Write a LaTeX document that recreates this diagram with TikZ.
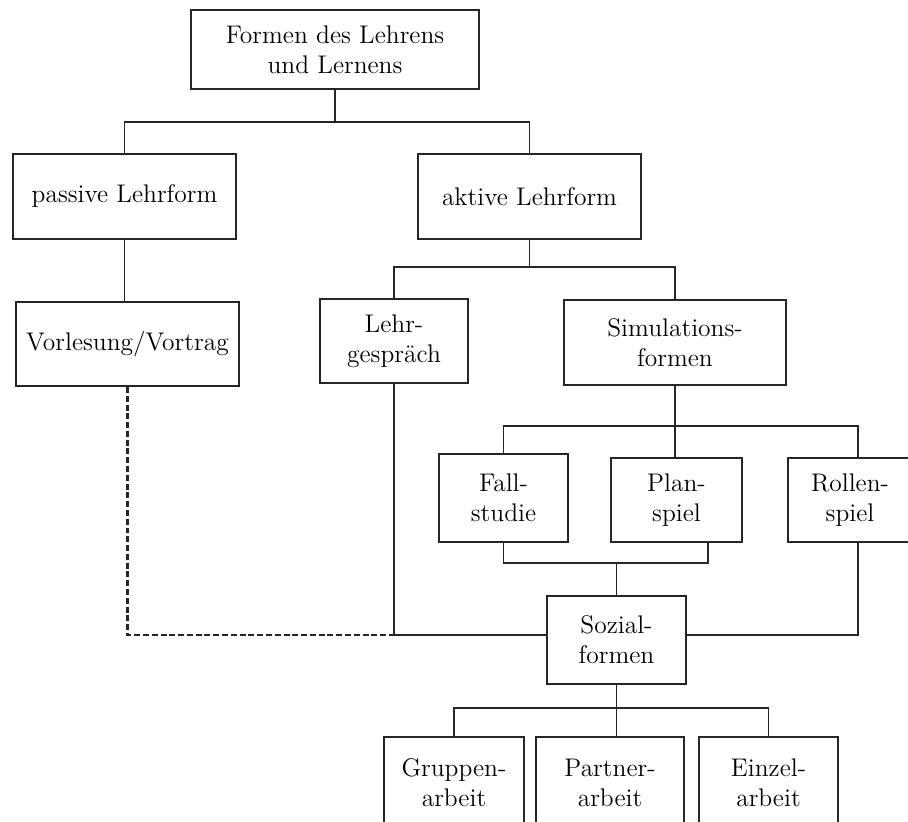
\documentclass[tikz,border=0pt]{standalone}
\usepackage{tikz}
\usetikzlibrary{calc,positioning}
\tikzset{
  formbox/.style  = {draw=black!85, line width=1.1pt, align=center, inner sep=0pt,
                     font=\fontsize{14.5}{17}\selectfont},
  link/.style     = {draw=black!85, line width=1.1pt},
  linkdash/.style = {link, line width=1.3pt, dash pattern=on 3.4pt off 1.6pt},
}
\begin{document}
\begin{tikzpicture}[x=0.02cm, y=-0.02cm]
  \clip (0,0) rectangle (908,821);
  \node[formbox, minimum width=5.76cm, minimum height=1.58cm] (top)     at (335,49.5)    {Formen des Lehrens\\und Lernens};
  \node[formbox, minimum width=4.46cm, minimum height=1.7cm]  (passive) at (124.5,196.5) {passive Lehrform};
  \node[formbox, minimum width=4.46cm, minimum height=1.7cm]  (aktive)  at (529.5,196.5) {aktive Lehrform};
  \node[formbox, minimum width=4.46cm, minimum height=1.68cm] (vorl)    at (127.5,344)   {Vorlesung/Vortrag};
  \node[formbox, minimum width=2.96cm, minimum height=1.68cm] (lehr)    at (394,341)     {Lehr-\\gespräch};
  \node[formbox, minimum width=4.44cm, minimum height=1.7cm]  (sim)     at (675,342.5)   {Simulations-\\formen};
  \node[formbox, minimum width=2.58cm, minimum height=1.76cm] (fall)    at (503.5,498)   {Fall-\\studie};
  \node[formbox, minimum width=2.62cm, minimum height=1.68cm] (plan)    at (676.5,500)   {Plan-\\spiel};
  \node[formbox, minimum width=2.48cm, minimum height=1.68cm] (rollen)  at (850,500)     {Rollen-\\spiel};
  \node[formbox, minimum width=2.78cm, minimum height=1.76cm] (sozial)  at (616.5,640)   {Sozial-\\formen};
  \node[formbox, minimum width=2.8cm,  minimum height=1.84cm] (gruppen) at (454,783)     {Gruppen-\\arbeit};
  \node[formbox, minimum width=2.96cm, minimum height=1.84cm] (partner) at (610,783)     {Partner-\\arbeit};
  \node[formbox, minimum width=2.78cm, minimum height=1.84cm] (einzel)  at (768.5,783)   {Einzel-\\arbeit};

  \coordinate (j1) at (335,122);
  \coordinate (j2) at (529.5,267);
  \coordinate (j3) at (675,426);
  \coordinate (j4) at (616.5,563);
  \coordinate (j5) at (lehr.south |- 0,635);
  \coordinate (j6) at (616.5,708);

  \draw[link] (top) -- (j1);
  \draw[link] (passive) |- (j1) -| (aktive);
  \draw[link] (passive.south) -- (passive.south |- vorl.north);
  \draw[link] (aktive) -- (j2);
  \draw[link] (lehr) |- (j2) -| (sim);
  \draw[link] (sim.south) -- (j3) -- (j3 |- plan.north);
  \draw[link] (fall) |- (j3) -| ([xshift=0.16cm]rollen.north);
  \draw[link] (fall.south) |- (j4) -| ([xshift=-0.7cm]plan.south east);
  \draw[link] (j4) -- (sozial.north);
  \draw[linkdash] (vorl.south) |- (j5);
  \draw[link] (lehr.south) -- (j5) -- ([yshift=0.1cm]sozial.west);
  \draw[link] ([xshift=0.16cm]rollen.south) |- ([yshift=0.1cm]sozial.east);
  \draw[link] (sozial) -- (j6);
  \draw[link] (gruppen) |- (j6) -| (einzel);
  \draw[link] (j6) -- (j6 |- partner.north);
\end{tikzpicture}
\end{document}
